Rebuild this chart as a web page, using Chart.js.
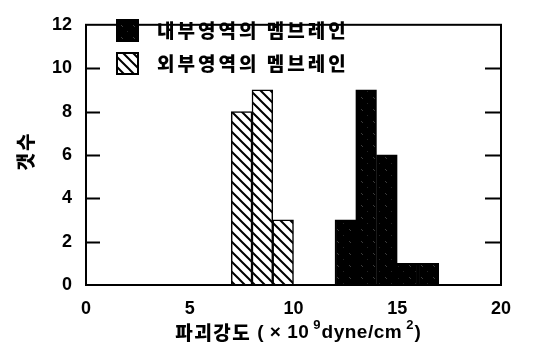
<!DOCTYPE html>
<html>
<head>
<meta charset="utf-8">
<script src="https://cdn.jsdelivr.net/npm/chart.js@4.4.1/dist/chart.umd.min.js"></script>
<style>
  html, body { margin: 0; padding: 0; background: #fff; }
  #wrap { width: 544px; height: 351px; }
</style>
</head>
<body>
<div id="wrap"><canvas id="c" width="544" height="351"></canvas></div>
<script>
// Histogram bins (bin centres, width 1) and counts
const innerLabel = '내부영역의 멤브레인';
const outerLabel = '외부영역의 멤브레인';
const innerBins = [12.5, 13.5, 14.5, 15.5, 16.5];
const innerCounts = [3, 9, 6, 1, 1];
const outerBins = [7.5, 8.5, 9.5];
const outerCounts = [8, 9, 3];
const xTicks = [0, 5, 10, 15, 20];
const yTicks = [0, 2, 4, 6, 8, 10, 12];
const yTitle = '갯수';
const xTitleParts = ['파괴강도', '( × 10', '9', 'dyne/cm', '2', ')'];

const KR = '"Noto Sans CJK KR", "Noto Sans", sans-serif';
const NUM = '"Liberation Sans", Arial, sans-serif';

// White fill with black "\" hatching
function hatchPattern() {
  const c = document.createElement('canvas');
  c.width = 10; c.height = 10;
  const g = c.getContext('2d');
  g.fillStyle = '#fff';
  g.fillRect(0, 0, 10, 10);
  g.strokeStyle = '#000';
  g.lineWidth = 2;
  g.beginPath();
  g.moveTo(-2, -2); g.lineTo(12, 12);
  g.moveTo(-12, -2); g.lineTo(2, 12);
  g.moveTo(8, -2); g.lineTo(22, 12);
  g.stroke();
  return g.createPattern(c, 'repeat');
}

// Black fill with faint grey "\" speckles
function darkPattern() {
  const c = document.createElement('canvas');
  c.width = 12; c.height = 12;
  const g = c.getContext('2d');
  g.fillStyle = '#000';
  g.fillRect(0, 0, 12, 12);
  g.fillStyle = '#3c3c3c';
  g.fillRect(1, 1, 1, 1);
  g.fillRect(2, 2, 1, 1);
  g.fillStyle = '#262626';
  g.fillRect(7, 7, 1, 1);
  return g.createPattern(c, 'repeat');
}

const fillInner = darkPattern();
const fillOuter = hatchPattern();

const toPoints = (xs, ys) => xs.map((x, i) => ({ x: x, y: ys[i] }));

const frameAndText = {
  id: 'frameAndText',
  afterDraw(chart) {
    const ctx = chart.ctx;
    const a = chart.chartArea;
    const ys = chart.scales.y;
    ctx.save();
    // plot frame
    ctx.strokeStyle = '#000';
    ctx.lineWidth = 2;
    ctx.strokeRect(a.left, a.top, a.right - a.left, a.bottom - a.top);
    // inward tick marks on left and right edges
    ctx.beginPath();
    yTicks.slice(1, -1).forEach(v => {
      const py = Math.round(ys.getPixelForValue(v)) + 0.5;
      ctx.moveTo(a.left, py); ctx.lineTo(a.left + 14, py);
      ctx.moveTo(a.right, py); ctx.lineTo(a.right - 16, py);
    });
    ctx.stroke();

    // legend inside the plot
    const items = [
      { label: chart.data.datasets[0].label, fill: fillInner, y: 20 },
      { label: chart.data.datasets[1].label, fill: fillOuter, y: 53 }
    ];
    items.forEach(it => {
      ctx.fillStyle = it.fill;
      ctx.fillRect(117, it.y, 21, 21);
      ctx.lineWidth = 2;
      ctx.strokeStyle = '#000';
      ctx.strokeRect(117, it.y, 21, 21);
      ctx.fillStyle = '#000';
      ctx.font = '900 19px ' + KR;
      ctx.letterSpacing = '3px';
      ctx.textAlign = 'left';
      ctx.textBaseline = 'middle';
      ctx.fillText(it.label, 157, it.y + 11);
    });
    ctx.letterSpacing = '0px';

    // y axis title
    ctx.save();
    ctx.translate(26, 151);
    ctx.rotate(-Math.PI / 2);
    ctx.font = '900 19px ' + KR;
    ctx.textAlign = 'center';
    ctx.textBaseline = 'middle';
    ctx.letterSpacing = '2px';
    ctx.fillText(yTitle, 0, 0);
    ctx.restore();

    // x axis title with superscripts
    const fonts = [
      '900 19px ' + KR,
      'bold 19px ' + NUM,
      'bold 13px ' + NUM,
      'bold 19px ' + NUM,
      'bold 13px ' + NUM,
      'bold 19px ' + NUM
    ];
    const spacing = ['1.5px', '0.5px', '0px', '0.5px', '0px', '0px'];
    const gaps = [6, 4, 1, 4, 1, 0];
    const raise = [0, 0, -8, 0, -8, 0];
    let total = 0;
    const widths = xTitleParts.map((t, i) => {
      ctx.font = fonts[i];
      ctx.letterSpacing = spacing[i];
      const w = ctx.measureText(t).width;
      total += w + gaps[i];
      return w;
    });
    let x = 298 - total / 2;
    ctx.textAlign = 'left';
    ctx.textBaseline = 'middle';
    xTitleParts.forEach((t, i) => {
      ctx.font = fonts[i];
      ctx.letterSpacing = spacing[i];
      ctx.fillText(t, x, 333 + raise[i]);
      x += widths[i] + gaps[i];
    });
    ctx.letterSpacing = '0px';
    ctx.restore();
  }
};

new Chart(document.getElementById('c'), {
  type: 'bar',
  data: {
    datasets: [
      {
        label: innerLabel,
        data: toPoints(innerBins, innerCounts),
        backgroundColor: fillInner,
        borderColor: '#000',
        borderWidth: 1.5,
        borderSkipped: 'start',
        barPercentage: 1,
        categoryPercentage: 1,
        grouped: false
      },
      {
        label: outerLabel,
        data: toPoints(outerBins, outerCounts),
        backgroundColor: fillOuter,
        borderColor: '#000',
        borderWidth: 1.5,
        borderSkipped: 'start',
        barPercentage: 1,
        categoryPercentage: 1,
        grouped: false
      }
    ]
  },
  options: {
    responsive: false,
    animation: false,
    devicePixelRatio: 1,
    layout: { padding: { top: 11, right: 43, left: 0, bottom: 0 } },
    plugins: { legend: { display: false }, tooltip: { enabled: false } },
    scales: {
      x: {
        type: 'linear',
        offset: false,
        min: 0, max: 20,
        afterBuildTicks: s => { s.ticks = xTicks.map(v => ({ value: v })); },
        afterFit: s => { s.height = 66; },
        grid: { display: false, drawTicks: false, offset: false },
        border: { display: false },
        ticks: { padding: 13, color: '#000', font: { family: NUM, size: 18, weight: 'bold' }, maxRotation: 0 }
      },
      y: {
        min: 0, max: 12,
        afterBuildTicks: s => { s.ticks = yTicks.map(v => ({ value: v })); },
        afterFit: s => { s.width = 86; },
        grid: { display: false, drawTicks: false },
        border: { display: false },
        ticks: { padding: 14, color: '#000', font: { family: NUM, size: 18, weight: 'bold' } }
      }
    }
  },
  plugins: [frameAndText]
});
</script>
</body>
</html>
